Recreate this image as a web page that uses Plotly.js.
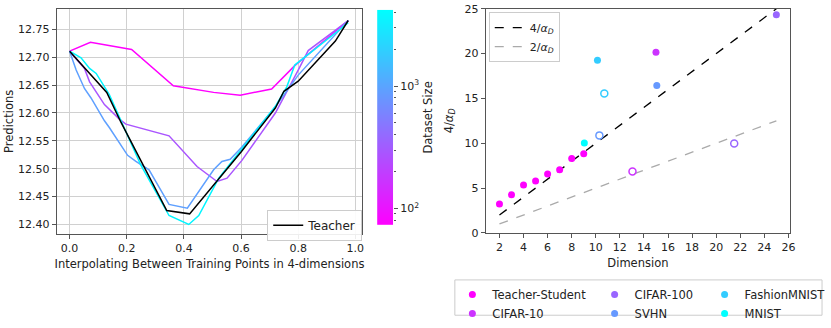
<!DOCTYPE html>
<html>
<head>
<meta charset="utf-8">
<script src="https://cdn.plot.ly/plotly-3.0.1.min.js"></script>
<style>
  html, body { margin: 0; padding: 0; background: #fff; }
  #chart { width: 831px; height: 328px; }
</style>
</head>
<body>
<div id="chart"></div>
<script>
// Left panel: predictions along the interpolation path
const teacherX = [0, 0.13, 0.18, 0.34, 0.42, 0.5, 0.6, 0.72, 0.75, 0.8, 0.93, 0.975];
const teacherY = [12.711, 12.637, 12.583, 12.425, 12.419, 12.469, 12.53, 12.609, 12.639, 12.657, 12.729, 12.766];

const magentaX = [0, 0.073, 0.217, 0.363, 0.504, 0.597, 0.707, 0.788, 0.975];
const magentaY = [12.711, 12.727, 12.714, 12.649, 12.637, 12.632, 12.643, 12.685, 12.766];

const purpleX = [0, 0.052, 0.07, 0.122, 0.174, 0.197, 0.348, 0.446, 0.516, 0.551, 0.603, 0.72, 0.8, 0.835, 0.975];
const purpleY = [12.711, 12.68, 12.656, 12.615, 12.589, 12.58, 12.559, 12.504, 12.477, 12.483, 12.515, 12.6, 12.677, 12.712, 12.766];

const blueX = [0, 0.023, 0.052, 0.075, 0.122, 0.139, 0.203, 0.232, 0.278, 0.348, 0.412, 0.504, 0.533, 0.562, 0.603, 0.72, 0.8, 0.975];
const blueY = [12.711, 12.677, 12.644, 12.627, 12.586, 12.574, 12.524, 12.513, 12.498, 12.436, 12.429, 12.498, 12.513, 12.517, 12.539, 12.611, 12.668, 12.766];

const cyanX = [0, 0.04, 0.07, 0.093, 0.139, 0.18, 0.249, 0.348, 0.417, 0.452, 0.522, 0.72, 0.76, 0.788, 0.975];
const cyanY = [12.711, 12.699, 12.68, 12.671, 12.633, 12.586, 12.507, 12.416, 12.4, 12.416, 12.483, 12.612, 12.647, 12.686, 12.762];

// Colorbar (dataset size, log scale)
const sizeRange = [73, 4200];
const sizeMajorTicks = [100, 1000];
const sizeMajorLabels = ['10<sup>2</sup>', '10<sup>3</sup>'];
const sizeMinorTicks = [80, 90, 200, 300, 400, 500, 600, 700, 800, 900, 2000, 3000, 4000];

// Right panel: 4/alpha_D against dimension
const refDims = [2, 25];
const fourOverAlpha = [2, 25];
const twoOverAlpha = [1, 12.5];

const tsDims = [2, 3, 4, 5, 6, 7, 8, 9];
const tsVals = [3.24, 4.26, 5.35, 5.79, 6.58, 7.06, 8.3, 8.84];
const cifar10Dims = [15.0];
const cifar10Vals = [20.15];
const cifar10AltDims = [13.05];
const cifar10AltVals = [6.84];
const cifar100Dims = [25.0];
const cifar100Vals = [24.35];
const cifar100AltDims = [21.5];
const cifar100AltVals = [9.97];
const svhnDims = [15.07];
const svhnVals = [16.45];
const svhnAltDims = [10.3];
const svhnAltVals = [10.88];
const fashionDims = [10.14];
const fashionVals = [19.25];
const fashionAltDims = [10.71];
const fashionAltVals = [15.54];
const mnistDims = [9.05];
const mnistVals = [10.04];

const font = 'DejaVu Sans, sans-serif';
const log10 = v => Math.log10(v);

function curve(x, y, color, name, show) {
    return {
        x: x, y: y, type: 'scatter', mode: 'lines', name: name,
        line: { color: color, width: 1.5 },
        showlegend: show, legend: 'legend', xaxis: 'x', yaxis: 'y'
    };
}

function dots(x, y, color, name, legend) {
    return {
        x: x, y: y, type: 'scatter', mode: 'markers', name: name,
        marker: { color: color, size: 7 },
        legend: legend, xaxis: 'x2', yaxis: 'y2'
    };
}

function rings(x, y, color) {
    return {
        x: x, y: y, type: 'scatter', mode: 'markers',
        marker: { symbol: 'circle-open', color: color, size: 7, line: { width: 1.5 } },
        showlegend: false, xaxis: 'x2', yaxis: 'y2'
    };
}

const lo = log10(sizeRange[0]);
const hi = log10(sizeRange[1]);

const data = [
    curve(magentaX, magentaY, '#ff00ff', 'm', false),
    curve(purpleX, purpleY, '#aa55ff', 'p', false),
    curve(blueX, blueY, '#5fa0ff', 'b', false),
    curve(cyanX, cyanY, '#00f5ff', 'c', false),
    curve(teacherX, teacherY, '#000000', 'Teacher', true),
    {
        type: 'heatmap', x: [0, 1], y: [lo, hi], z: [[lo, lo], [hi, hi]],
        zmin: lo, zmax: hi, zsmooth: 'best', showscale: false, hoverinfo: 'skip',
        colorscale: [[0, '#ff00ff'], [1, '#00ffff']],
        xaxis: 'x3', yaxis: 'y3'
    },
    {
        x: refDims, y: fourOverAlpha, type: 'scatter', mode: 'lines',
        name: '4/<i>α</i><sub><i>D</i></sub>', line: { color: '#000', width: 1.3, dash: 'dash' },
        legend: 'legend2', xaxis: 'x2', yaxis: 'y2'
    },
    {
        x: refDims, y: twoOverAlpha, type: 'scatter', mode: 'lines',
        name: '2/<i>α</i><sub><i>D</i></sub>', line: { color: '#aaaaaa', width: 1.3, dash: 'dash' },
        legend: 'legend2', xaxis: 'x2', yaxis: 'y2'
    },
    rings(cifar10AltDims, cifar10AltVals, '#cc33ff'),
    rings(cifar100AltDims, cifar100AltVals, '#9966ff'),
    rings(svhnAltDims, svhnAltVals, '#6699ff'),
    rings(fashionAltDims, fashionAltVals, '#33ccff'),
    dots(tsDims, tsVals, '#ff00ff', 'Teacher-Student', 'legend3'),
    dots(cifar10Dims, cifar10Vals, '#cc33ff', 'CIFAR-10', 'legend3'),
    dots(cifar100Dims, cifar100Vals, '#9966ff', 'CIFAR-100', 'legend4'),
    dots(svhnDims, svhnVals, '#6699ff', 'SVHN', 'legend4'),
    dots(fashionDims, fashionVals, '#33ccff', 'FashionMNIST', 'legend5'),
    dots(mnistDims, mnistVals, '#00ffff', 'MNIST', 'legend5')
];

const tickFont = { family: font, size: 11, color: '#222' };
const baseAxis = {
    showline: true, mirror: true, linecolor: '#555', linewidth: 1,
    ticks: 'outside', ticklen: 4, tickcolor: '#555', tickfont: tickFont,
    zeroline: false, automargin: false
};
const smallLegend = {
    orientation: 'v', bgcolor: 'rgba(0,0,0,0)', borderwidth: 0,
    font: { family: font, size: 11.5, color: '#222' },
    xanchor: 'left', yanchor: 'top', tracegroupgap: 0
};

const layout = {
    width: 831, height: 328,
    margin: { l: 0, r: 0, t: 0, b: 0 },
    paper_bgcolor: '#fff', plot_bgcolor: '#fff',
    font: { family: font, size: 11, color: '#222' },
    xaxis: Object.assign({}, baseAxis, {
        domain: [0.0686, 0.438], range: [-0.045, 1.024],
        tickvals: [0, 0.2, 0.4, 0.6, 0.8, 1.0], tickformat: '.1f',
        showgrid: true, gridcolor: '#d0d0d0',
        title: { text: 'Interpolating Between Training Points in 4-dimensions', font: { family: font, size: 11.5 }, standoff: 5 },
        anchor: 'y'
    }),
    yaxis: Object.assign({}, baseAxis, {
        domain: [0.2713, 0.9726], range: [12.383, 12.787],
        tickvals: [12.40, 12.45, 12.50, 12.55, 12.60, 12.65, 12.70, 12.75], tickformat: '.2f',
        showgrid: true, gridcolor: '#d0d0d0',
        title: { text: 'Predictions', font: { family: font, size: 11.5 } },
        anchor: 'x'
    }),
    xaxis3: {
        domain: [0.456, 0.4753], range: [0, 1], anchor: 'y3',
        showticklabels: false, ticks: '', showgrid: false, zeroline: false, showline: false
    },
    yaxis3: {
        domain: [0.2988, 0.9695], range: [lo, hi], anchor: 'x3', side: 'right',
        tickvals: sizeMajorTicks.map(log10), ticktext: sizeMajorLabels,
        ticks: 'outside', ticklen: 4, tickcolor: '#555', tickfont: tickFont,
        minor: { tickvals: sizeMinorTicks.map(log10), ticks: 'outside', ticklen: 2, tickcolor: '#555' },
        showgrid: false, zeroline: false, showline: false,
        title: { text: 'Dataset Size', font: { family: font, size: 11.5 } }
    },
    xaxis2: Object.assign({}, baseAxis, {
        domain: [0.5872, 0.9555], range: [0.85, 26.15],
        tickvals: [2, 4, 6, 8, 10, 12, 14, 16, 18, 20, 22, 24, 26],
        showgrid: false,
        title: { text: 'Dimension', font: { family: font, size: 11.5 }, standoff: 5 },
        anchor: 'y2'
    }),
    yaxis2: Object.assign({}, baseAxis, {
        domain: [0.2744, 0.9726], range: [0, 25],
        tickvals: [0, 5, 10, 15, 20, 25],
        showgrid: false,
        title: { text: '4/<i>α</i><sub><i>D</i></sub>', font: { family: font, size: 11.5 } },
        anchor: 'x2'
    }),
    legend: {
        x: 0.438, y: 0.25, xanchor: 'right', yanchor: 'bottom',
        bgcolor: 'rgba(255,255,255,0.9)', bordercolor: '#cccccc', borderwidth: 1,
        font: { family: font, size: 12, color: '#222' }
    },
    legend2: {
        x: 0.591, y: 0.962, xanchor: 'left', yanchor: 'top',
        bgcolor: 'rgba(255,255,255,0.9)', bordercolor: '#cccccc', borderwidth: 1,
        font: { family: font, size: 11, color: '#222' }
    },
    legend3: Object.assign({}, smallLegend, { x: 0.547, y: 0.128 }),
    legend4: Object.assign({}, smallLegend, { x: 0.719, y: 0.128 }),
    legend5: Object.assign({}, smallLegend, { x: 0.852, y: 0.128 }),
    shapes: [{
        type: 'rect', xref: 'paper', yref: 'paper',
        x0: 0.55, x1: 0.994, y0: 0.018, y1: 0.128,
        line: { color: '#cccccc', width: 1 }, fillcolor: 'rgba(0,0,0,0)'
    }],
    showlegend: true
};

Plotly.newPlot('chart', data, layout, { displayModeBar: false, staticPlot: true });
</script>
</body>
</html>
